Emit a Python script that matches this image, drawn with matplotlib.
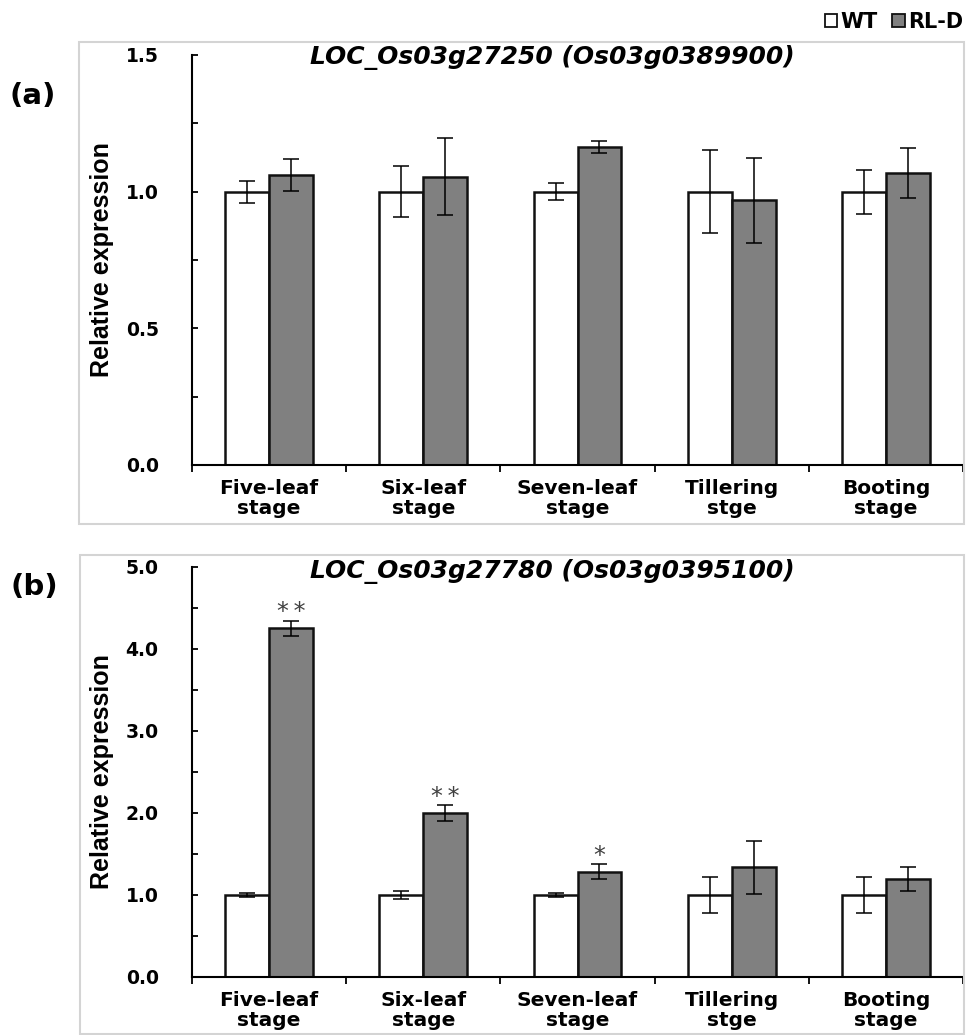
import matplotlib
matplotlib.use("Agg")
import matplotlib.pyplot as plt
from matplotlib.patches import Rectangle, Patch
from matplotlib.ticker import MultipleLocator, FixedLocator
import numpy as np

# DATEN

stages = ["Five-leaf\nstage", "Six-leaf\nstage", "Seven-leaf\nstage", "Tillering\nstge", "Booting\nstage"]

# (a) LOC_Os03g27250
a_title = "LOC_Os03g27250 (Os03g0389900)"
a_wt = [1.0, 1.0, 1.0, 1.0, 1.0]
a_wt_err = [0.04, 0.093, 0.03, 0.153, 0.08]
a_rld = [1.061, 1.055, 1.164, 0.968, 1.069]
a_rld_err = [0.06, 0.14, 0.022, 0.155, 0.091]
a_sig = ["", "", "", "", ""]

# (b) LOC_Os03g27780
b_title = "LOC_Os03g27780 (Os03g0395100)"
b_wt = [1.0, 1.0, 1.0, 1.0, 1.0]
b_wt_err = [0.02, 0.045, 0.025, 0.22, 0.22]
b_rld = [4.25, 2.0, 1.285, 1.338, 1.195]
b_rld_err = [0.095, 0.092, 0.092, 0.32, 0.148]
b_sig = ["**", "**", "*", "", ""]

FONT = "DejaVu Sans"
W, H = 966, 1035

fig = plt.figure(figsize=(W / 100, H / 100), dpi=100)


def fx(px):
    return px / W


def fy(py):
    return 1 - py / H


def panel(top_px, bot_px, wt, wt_err, rld, rld_err, sig, ymax, major, minor, title, title_y):
    ax = fig.add_axes([fx(192), fy(bot_px), fx(963) - fx(192), fy(top_px) - fy(bot_px)])
    x = np.arange(len(stages))
    w = 0.285
    err_kw = dict(ecolor="black", elinewidth=1.1, capsize=5.5, capthick=1.1)
    b1 = ax.bar(x - w / 2, wt, w, yerr=wt_err, color="white", edgecolor="#111111",
                linewidth=1.8, error_kw=err_kw, label="WT", zorder=2)
    b2 = ax.bar(x + w / 2, rld, w, yerr=rld_err, color="#808080", edgecolor="#111111",
                linewidth=1.8, error_kw=err_kw, label="RL-D", zorder=2)
    for i, s in enumerate(sig):
        if s:
            # thin space between the stars, as in the original
            ax.annotate("\u2009".join(s), (x[i] + w / 2, rld[i] + rld_err[i]), xytext=(0, 1),
                        textcoords="offset points", ha="center", va="baseline",
                        fontsize=17, color="#404040", family=FONT)
    ax.set_xlim(-0.5, len(stages) - 0.5)
    ax.set_ylim(0, ymax)
    for s in ["top", "right"]:
        ax.spines[s].set_visible(False)
    for s in ["left", "bottom"]:
        ax.spines[s].set_linewidth(1.5)
        ax.spines[s].set_color("black")
    ax.yaxis.set_major_locator(MultipleLocator(major))
    ax.yaxis.set_minor_locator(MultipleLocator(minor))
    ax.yaxis.set_major_formatter(lambda v, p: "%.1f" % v)
    ax.tick_params(axis="y", which="both", direction="in", length=4, width=1.3,
                   pad=24, labelsize=13.5)
    ax.set_xticks(x)
    ax.set_xticklabels(stages, fontsize=14.5, fontweight="bold", family=FONT, linespacing=1.05)
    ax.xaxis.set_minor_locator(FixedLocator(np.arange(-0.5, len(stages), 1.0)))
    ax.tick_params(axis="x", which="major", length=0, pad=10)
    ax.tick_params(axis="x", which="minor", direction="out", length=5, width=1.3)
    for t in ax.get_yticklabels():
        t.set_fontweight("bold")
    fig.text(fx(552), fy(title_y), title, ha="center", va="center", fontsize=18,
             fontweight="bold", style="italic", family=FONT)
    fig.text(fx(102), fy((top_px + bot_px) / 2), "Relative expression", rotation=90,
             ha="center", va="center", fontsize=18, fontweight="bold", family="Liberation Sans")
    return ax, b1, b2


# panel frames
fig.add_artist(Rectangle((fx(79), fy(524)), fx(964) - fx(79), fy(42) - fy(524),
                         transform=fig.transFigure, fill=False, edgecolor="#d4d4d4", linewidth=1.5))
fig.add_artist(Rectangle((fx(80), fy(1034)), fx(964) - fx(80), fy(555) - fy(1034),
                         transform=fig.transFigure, fill=False, edgecolor="#d4d4d4", linewidth=1.5))

axa, h1, h2 = panel(55, 465, a_wt, a_wt_err, a_rld, a_rld_err, a_sig, 1.5, 0.5, 0.25, a_title, 58)
axb, _, _ = panel(567, 977, b_wt, b_wt_err, b_rld, b_rld_err, b_sig, 5.0, 1.0, 0.5, b_title, 571)

fig.text(fx(33), fy(96), "(a)", ha="center", va="center", fontsize=21, fontweight="bold", family=FONT)
fig.text(fx(34), fy(587), "(b)", ha="center", va="center", fontsize=21, fontweight="bold", family=FONT)

handles = [Patch(facecolor="white", edgecolor="#111111", linewidth=1.3),
           Patch(facecolor="#808080", edgecolor="#111111", linewidth=1.3)]
fig.legend(handles, ["WT", "RL-D"], loc="center right", bbox_to_anchor=(fx(963), fy(22)),
           ncol=2, frameon=False, borderpad=0, borderaxespad=0, handlelength=0.6,
           handleheight=0.6, handletextpad=0.15, columnspacing=0.7,
           prop=dict(family=FONT, weight="bold", size=15))

fig.savefig("out.png", dpi=100)
